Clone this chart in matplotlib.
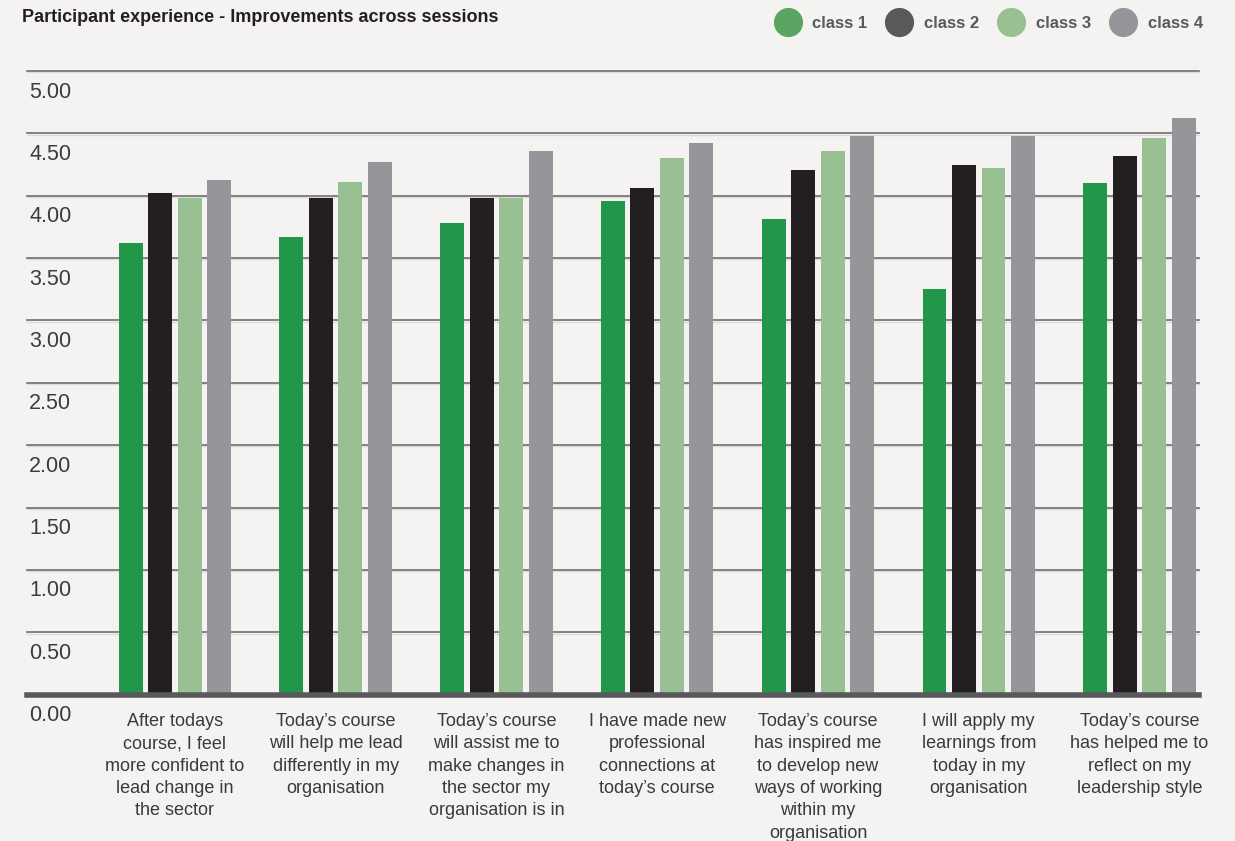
import matplotlib.pyplot as plt
import matplotlib.transforms as mtransforms
from matplotlib.lines import Line2D
import numpy as np

# data
categories = [
    "After todays\ncourse, I feel\nmore confident to\nlead change in\nthe sector",
    "Today\u2019s course\nwill help me lead\ndifferently in my\norganisation",
    "Today\u2019s course\nwill assist me to\nmake changes in\nthe sector my\norganisation is in",
    "I have made new\nprofessional\nconnections at\ntoday\u2019s course",
    "Today\u2019s course\nhas inspired me\nto develop new\nways of working\nwithin my\norganisation",
    "I will apply my\nlearnings from\ntoday in my\norganisation",
    "Today\u2019s course\nhas helped me to\nreflect on my\nleadership style",
]
class_1 = [3.62, 3.67, 3.78, 3.96, 3.81, 3.25, 4.10]
class_2 = [4.02, 3.98, 3.98, 4.06, 4.21, 4.25, 4.32]
class_3 = [3.98, 4.11, 3.98, 4.30, 4.36, 4.22, 4.46]
class_4 = [4.13, 4.27, 4.36, 4.42, 4.48, 4.48, 4.62]
series_names = ["class 1", "class 2", "class 3", "class 4"]
y_ticks = [0.0, 0.5, 1.0, 1.5, 2.0, 2.5, 3.0, 3.5, 4.0, 4.5, 5.0]

bar_colors = ["#22974a", "#231f20", "#99c093", "#959699"]
legend_colors = ["#5aa562", "#58595b", "#99c093", "#959699"]
bg = "#f4f3f1"
sans = ["Liberation Sans", "DejaVu Sans"]

fig = plt.figure(figsize=(12.35, 8.41), dpi=100, facecolor=bg)
ax = fig.add_axes([27 / 1235, 146.4 / 841, 1172 / 1235, 623.6 / 841])
ax.set_facecolor(bg)

x = np.arange(len(categories))
pitch = 0.1835
width = 0.149
for k, vals in enumerate([class_1, class_2, class_3, class_4]):
    ax.bar(x + (k - 1.5) * pitch, vals, width, color=bar_colors[k], zorder=3)

ax.set_xlim(-0.92, 6.37)
ax.set_ylim(0, 5)

# grid lines with a faint shadow under each
blend = mtransforms.blended_transform_factory(ax.transAxes, ax.transData)
shadow = blend + mtransforms.ScaledTranslation(0, -1.3 / 100, fig.dpi_scale_trans)
for v in y_ticks[1:]:
    ax.plot([0, 1], [v, v], color="#dcdbd9", lw=1.0, zorder=1, transform=shadow, clip_on=False)
    ax.plot([0, 1], [v, v], color="#6d6e70", lw=1.2, zorder=2, transform=blend, clip_on=False)
ax.axhline(0, color="#58595b", lw=4, zorder=4, clip_on=False)

for s in ax.spines.values():
    s.set_visible(False)
ax.set_yticks([])

# y labels sit just below their grid lines
off = mtransforms.ScaledTranslation(0, -21 / 100, fig.dpi_scale_trans)
for v in y_ticks:
    ax.text(0.002, v, f"{v:.2f}", transform=blend + off, ha="left", va="center",
            fontsize=15.5, color="#3c3c3c", family=sans)

ax.set_xticks(x, categories)
ax.tick_params(axis="x", length=0, pad=13)
for lab in ax.get_xticklabels():
    lab.set_fontsize(13)
    lab.set_color("#3a3a3a")
    lab.set_family(sans)
    lab.set_linespacing(1.42)

fig.text(22 / 1235, 1 - 17 / 841, "Participant experience - Improvements across sessions",
         fontsize=13, fontweight="bold", color="#231f20", family=sans,
         ha="left", va="center")

handles = [Line2D([], [], marker="o", linestyle="none", markersize=21,
                  markerfacecolor=c, markeredgecolor="none") for c in legend_colors]
leg = fig.legend(handles, series_names, loc="center right", ncol=4,
                 bbox_to_anchor=(1218 / 1235, 1 - 23 / 841), frameon=False,
                 handletextpad=0.7, columnspacing=1.1, handlelength=1.6,
                 prop={"family": sans, "weight": "bold", "size": 12})
for t in leg.get_texts():
    t.set_color("#58595b")

fig.savefig("out.png", dpi=100, facecolor=bg)
